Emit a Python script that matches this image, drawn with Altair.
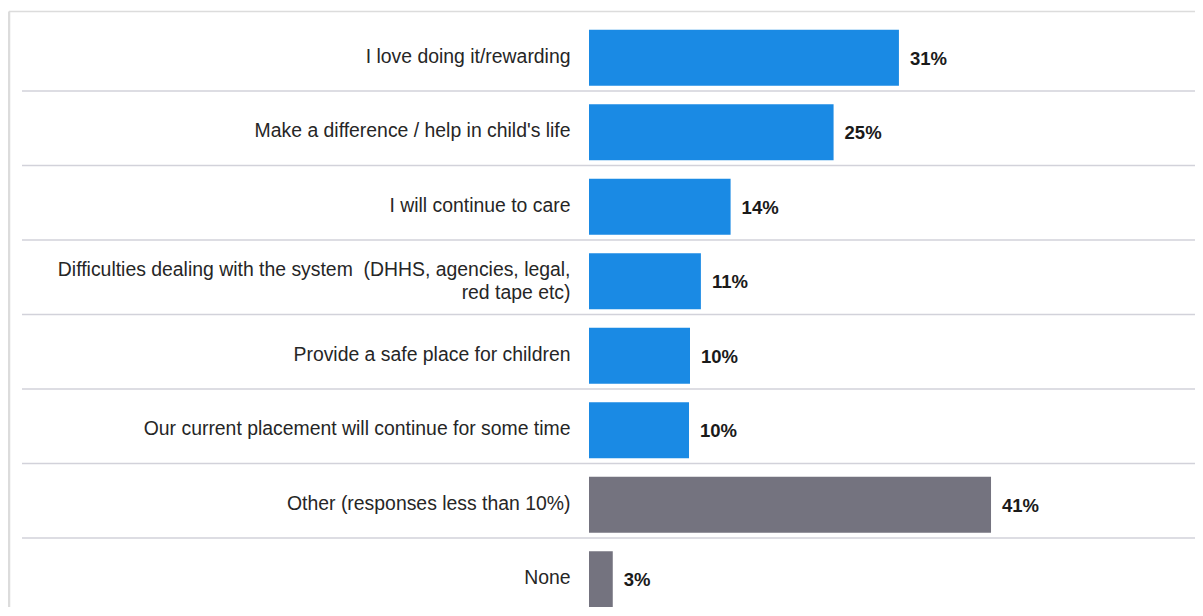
import altair as alt
import pandas as pd

categories = [
    "I love doing it/rewarding",
    "Make a difference / help in child's life",
    "I will continue to care",
    "Difficulties dealing with the system\u00a0 (DHHS, agencies, legal,\nred tape etc)",
    "Provide a safe place for children",
    "Our current placement will continue for some time",
    "Other (responses less than 10%)",
    "None",
]
values = [31.3, 24.7, 14.3, 11.3, 10.2, 10.1, 40.6, 2.4]
labels = ["31%", "25%", "14%", "11%", "10%", "10%", "41%", "3%"]
groups = ["reason"] * 6 + ["other"] * 2

df = pd.DataFrame({"cat": categories, "val": values, "lab": labels, "grp": groups})
sep_df = pd.DataFrame({"cat": categories[1:]})
one = pd.DataFrame({"a": [0]})

FONT = "Liberation Sans"
STEP = 74.5
N = len(categories)

y_scale = alt.Scale(domain=categories, range=[0, STEP * N], paddingInner=0, paddingOuter=0)
x_scale = alt.Scale(domain=[0, 61.2], nice=False, zero=True)

y_axis = alt.Axis(title=None, domain=False, ticks=False, grid=False,
                  labelPadding=19, labelFontSize=19.4, labelFont=FONT,
                  labelColor="#262626", labelLimit=700,
                  labelOffset={"condition": {"test": "indexof(datum.value, 'Difficulties') >= 0",
                                             "value": -7},
                               "value": 3},
                  labelLineHeight=23,
                  labelExpr="split(datum.label, '\\n')")

base = alt.Chart(df)

bars = base.mark_bar(height=56, yOffset=4).encode(
    y=alt.Y("cat:N", sort=None, scale=y_scale, axis=y_axis),
    x=alt.X("val:Q", scale=x_scale, axis=None),
    color=alt.Color("grp:N", scale=alt.Scale(domain=["reason", "other"],
                                             range=["#1a8ae4", "#74737f"]), legend=None),
)

text = base.mark_text(align="left", baseline="middle", dx=11, dy=5,
                      fontSize=18.5, fontWeight="bold", font=FONT, color="#1a1a1a").encode(
    y=alt.Y("cat:N", sort=None, scale=y_scale, axis=y_axis),
    x=alt.X("val:Q", scale=x_scale, axis=None),
    text="lab:N",
)

seps = alt.Chart(sep_df).mark_rule(color="#d2d2da", strokeWidth=1.5).encode(
    y=alt.Y("cat:N", sort=None, scale=y_scale, bandPosition=0, axis=y_axis),
    x=alt.value(-567),
    x2=alt.value(700),
)

top_line = alt.Chart(one).mark_rule(color="#dcdcdc", strokeWidth=1.5).encode(
    y=alt.value(-5), x=alt.value(-580), x2=alt.value(700)
)
left_line = alt.Chart(one).mark_rule(color="#dcdcdc", strokeWidth=2.5).encode(
    x=alt.value(-580), y=alt.value(-5), y2=alt.value(620)
)

chart = alt.layer(top_line, left_line, seps, bars, text).properties(
    width=606, height=590,
    background="white",
    autosize=alt.AutoSizeParams(type="none"),
    padding={"left": 581, "top": 8.5, "right": 0, "bottom": 0},
).configure_view(strokeWidth=0, stroke="transparent").configure_axis(
    domain=False, grid=False, ticks=False
)

chart.save("out.html", embed_options={"renderer": "svg", "actions": False})
